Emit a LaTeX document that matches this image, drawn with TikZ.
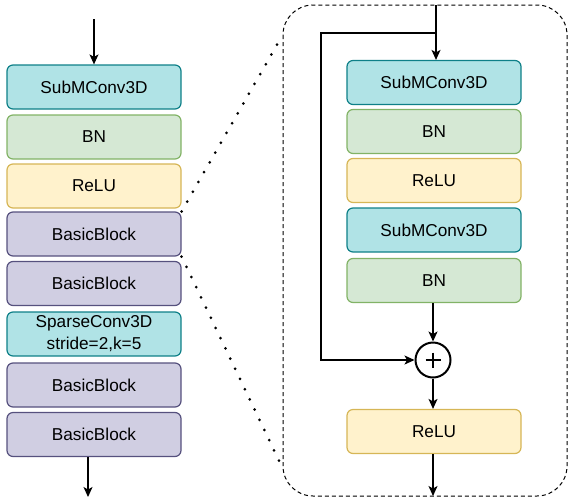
\documentclass[tikz,border=0pt]{standalone}
\usepackage{fontspec}
\setmainfont{Liberation Sans}
\usetikzlibrary{arrows.meta,calc}
\definecolor{tealF}{HTML}{B0E3E6}\definecolor{tealD}{HTML}{0E8088}
\definecolor{greenF}{HTML}{D5E8D4}\definecolor{greenD}{HTML}{82B366}
\definecolor{yelF}{HTML}{FFF2CC}\definecolor{yelD}{HTML}{D6B656}
\definecolor{purF}{HTML}{D0CEE2}\definecolor{purD}{HTML}{56517E}
\tikzset{
  blk/.style={rounded corners=6pt, minimum width=174pt, minimum height=44pt, line width=1.2pt, inner sep=0pt, align=center, font=\fontsize{17.2}{22}\selectfont},
  conv/.style={blk, fill=tealF, draw=tealD},
  bnb/.style={blk, fill=greenF, draw=greenD},
  relub/.style={blk, fill=yelF, draw=yelD},
  basic/.style={blk, fill=purF, draw=purD},
  arr/.style={line width=1.2pt, -{Stealth[length=10pt,width=9pt,inset=2.5pt]}},
  ln/.style={line width=1.2pt},
  dots/.style={line width=3pt, line cap=round, dash pattern=on 0pt off 11.3pt},
  dashbox/.style={line width=1pt, dash pattern=on 4pt off 3pt, rounded corners=30pt},
}
\begin{document}
\begin{tikzpicture}[x=1pt,y=-1pt]
\useasboundingbox (0,0) rectangle (569,498);
% left column
\node[conv]  (l1) at (94,87) {SubMConv3D};
\node[bnb]   (l2) at (94,137) {BN};
\node[relub] (l3) at (94,186) {ReLU};
\node[basic] (l4) at (94,234) {BasicBlock};
\node[basic] (l5) at (94,283.5) {BasicBlock};
\node[conv]  (l6) at (94,334) {SparseConv3D\\stride=2,k=5};
\node[basic] (l7) at (94,385) {BasicBlock};
\node[basic] (l8) at (94,434.5) {BasicBlock};
\coordinate (lin) at (94,19);
\coordinate (lout) at (88,497);
\draw[arr] (lin) -- (l1);
\draw[arr] (l8.south -| lout) -- (lout);
% dashed detail box
\draw[dashbox] (283,5) rectangle (567,496);
\coordinate (dtop) at (282,36);
\coordinate (dbot) at (282,467);
\draw[dots] (l4.north east) -- (dtop);
\draw[dots] (l4.south east) -- (dbot);
% right column
\node[conv]  (r1) at (434,82.5) {SubMConv3D};
\node[bnb]   (r2) at (434,131.5) {BN};
\node[relub] (r3) at (434,180.5) {ReLU};
\node[conv]  (r4) at (434,230) {SubMConv3D};
\node[bnb]   (r5) at (434,280.5) {BN};
\node[circle, draw, line width=2pt, minimum size=35pt, inner sep=0pt] (add) at (433,360) {};
\draw[line width=2.4pt] ($(add.center)+(-7.5,0)$) -- ($(add.center)+(7.5,0)$)
  ($(add.center)+(0,-7.5)$) -- ($(add.center)+(0,7.5)$);
\node[relub] (r6) at (434,431.5) {ReLU};
\coordinate (rin) at (436,5);
\coordinate (rbr) at (436,33);
\coordinate (rcorner) at (321,33);
\coordinate (rout) at (433,496);
\draw[arr] (rin) -- (r1.north -| rin);
\draw[arr] (rbr) -- (rcorner) |- (add);
\draw[arr] (r5.south -| add) -- (add);
\draw[arr] (add) -- (r6.north -| add);
\draw[arr] (r6.south -| rout) -- (rout);
\end{tikzpicture}
\end{document}
